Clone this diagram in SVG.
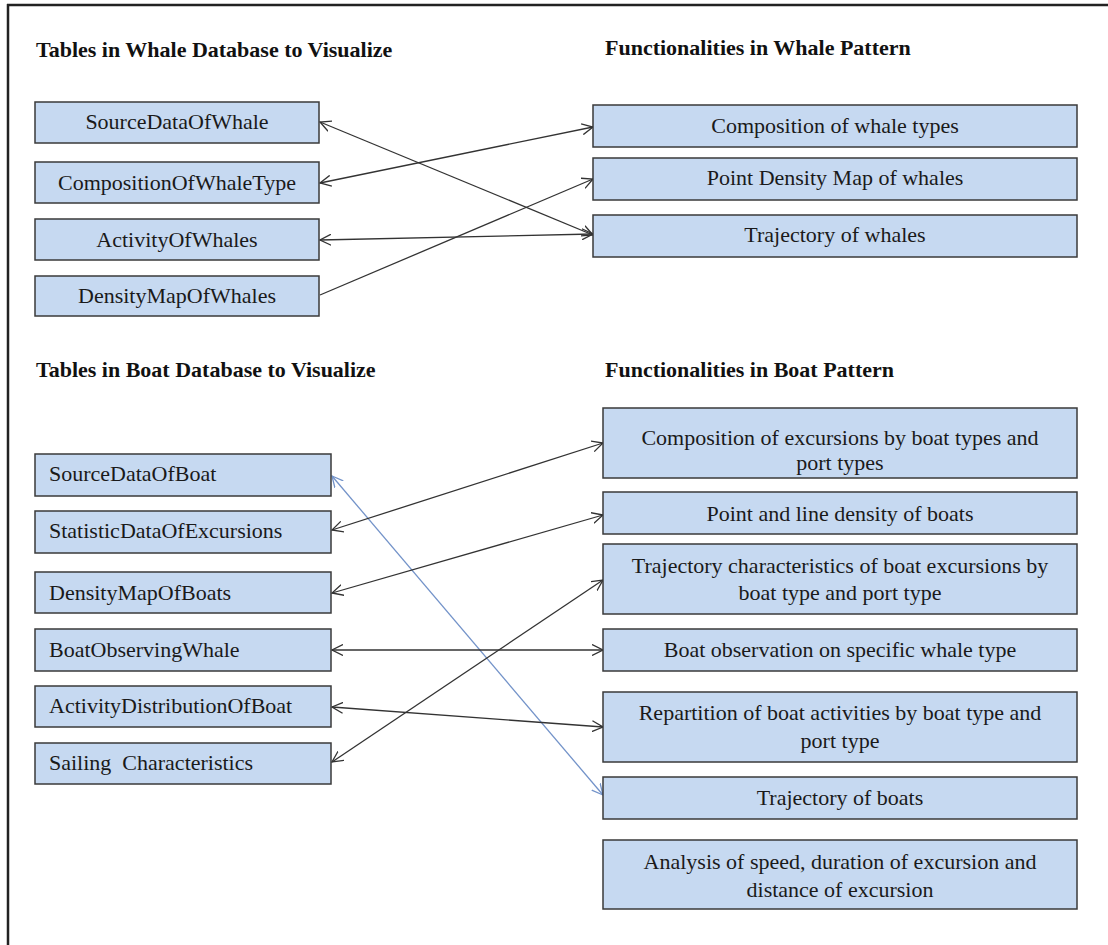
<svg xmlns="http://www.w3.org/2000/svg" width="1108" height="945" viewBox="0 0 1108 945">
<defs>
<style>
.box{fill:#c6d9f1;stroke:#3a3a3a;stroke-width:1.5}
.t{font-family:"Liberation Serif","Times New Roman",serif;font-size:22px;fill:#1a1a1a}
.c{text-anchor:middle}
.h{font-family:"Liberation Serif","Times New Roman",serif;font-size:22px;font-weight:bold;fill:#111}
.ln{fill:none;stroke:#333;stroke-width:1.3;marker-end:url(#ah)}
.both{marker-start:url(#ah)}
.blue{fill:none;stroke:#7393c9;stroke-width:1.3;marker-start:url(#ahb);marker-end:url(#ahb)}
</style>
<marker id="ah" viewBox="0 0 12 12" refX="11" refY="6" markerWidth="12" markerHeight="12" markerUnits="userSpaceOnUse" orient="auto-start-reverse">
<path d="M0,0.5 L11,6 L0,11.5" fill="none" stroke="#333" stroke-width="1.3"/>
</marker>
<marker id="ahb" viewBox="0 0 12 12" refX="11" refY="6" markerWidth="12" markerHeight="12" markerUnits="userSpaceOnUse" orient="auto-start-reverse">
<path d="M0,0.5 L11,6 L0,11.5" fill="none" stroke="#7393c9" stroke-width="1.3"/>
</marker>
</defs>
<rect width="1108" height="945" fill="#fff"/>
<g id="frame">
<line x1="7" y1="5" x2="1108" y2="5" stroke="#222" stroke-width="2.5"/>
<line x1="8" y1="4" x2="8" y2="945" stroke="#222" stroke-width="2.5"/>
</g>
<g id="headers">
<text class="h" x="36" y="57">Tables in Whale Database to Visualize</text>
<text class="h" x="605" y="55">Functionalities in Whale Pattern</text>
<text class="h" x="36" y="377">Tables in Boat Database to Visualize</text>
<text class="h" x="605" y="377">Functionalities in Boat Pattern</text>
</g>
<g id="connectors">
<line class="ln both" x1="320" y1="122" x2="593" y2="235"/>
<line class="ln both" x1="320" y1="183" x2="593" y2="127"/>
<line class="ln both" x1="320" y1="240" x2="593" y2="234"/>
<line class="ln" x1="320" y1="295" x2="593" y2="179"/>
<line class="blue" x1="332" y1="476" x2="603" y2="795"/>
<line class="ln both" x1="332" y1="530" x2="603" y2="443"/>
<line class="ln both" x1="332" y1="593" x2="603" y2="515"/>
<line class="ln both" x1="332" y1="650" x2="603" y2="650"/>
<line class="ln both" x1="332" y1="707" x2="603" y2="727"/>
<line class="ln both" x1="332" y1="762" x2="603" y2="580"/>
</g>
<g id="w1"><rect class="box" x="35" y="102" width="284" height="41"/><text class="t c" x="177" y="129">SourceDataOfWhale</text></g>
<g id="w2"><rect class="box" x="35" y="162" width="284" height="41"/><text class="t c" x="177" y="190">CompositionOfWhaleType</text></g>
<g id="w3"><rect class="box" x="35" y="219" width="284" height="41"/><text class="t c" x="177" y="247">ActivityOfWhales</text></g>
<g id="w4"><rect class="box" x="35" y="276" width="284" height="40"/><text class="t c" x="177" y="303">DensityMapOfWhales</text></g>
<g id="fw1"><rect class="box" x="593" y="105" width="484" height="42"/><text class="t c" x="835" y="133">Composition of whale types</text></g>
<g id="fw2"><rect class="box" x="593" y="158" width="484" height="42"/><text class="t c" x="835" y="185">Point Density Map of whales</text></g>
<g id="fw3"><rect class="box" x="593" y="215" width="484" height="42"/><text class="t c" x="835" y="242">Trajectory of whales</text></g>
<g id="b1"><rect class="box" x="35" y="454" width="296" height="42"/><text class="t" x="49" y="481">SourceDataOfBoat</text></g>
<g id="b2"><rect class="box" x="35" y="511" width="296" height="42"/><text class="t" x="49" y="538">StatisticDataOfExcursions</text></g>
<g id="b3"><rect class="box" x="35" y="572" width="296" height="41"/><text class="t" x="49" y="600">DensityMapOfBoats</text></g>
<g id="b4"><rect class="box" x="35" y="629" width="296" height="42"/><text class="t" x="49" y="657">BoatObservingWhale</text></g>
<g id="b5"><rect class="box" x="35" y="686" width="296" height="41"/><text class="t" x="49" y="713">ActivityDistributionOfBoat</text></g>
<g id="b6"><rect class="box" x="35" y="743" width="296" height="41"/><text class="t" x="49" y="770" style="white-space:pre">Sailing  Characteristics</text></g>
<g id="fb1"><rect class="box" x="603" y="408" width="474" height="70"/><text class="t c" x="840" y="445">Composition of excursions by boat types and</text><text class="t c" x="840" y="470">port types</text></g>
<g id="fb2"><rect class="box" x="603" y="492" width="474" height="42"/><text class="t c" x="840" y="521">Point and line density of boats</text></g>
<g id="fb3"><rect class="box" x="603" y="544" width="474" height="70"/><text class="t c" x="840" y="573">Trajectory characteristics of boat excursions by</text><text class="t c" x="840" y="600">boat type and port type</text></g>
<g id="fb4"><rect class="box" x="603" y="629" width="474" height="42"/><text class="t c" x="840" y="657">Boat observation on specific whale type</text></g>
<g id="fb5"><rect class="box" x="603" y="692" width="474" height="70"/><text class="t c" x="840" y="720">Repartition of boat activities by boat type and</text><text class="t c" x="840" y="748">port type</text></g>
<g id="fb6"><rect class="box" x="603" y="777" width="474" height="42"/><text class="t c" x="840" y="805">Trajectory of boats</text></g>
<g id="fb7"><rect class="box" x="603" y="840" width="474" height="69"/><text class="t c" x="840" y="869">Analysis of speed, duration of excursion and</text><text class="t c" x="840" y="897">distance of excursion</text></g>
</svg>
